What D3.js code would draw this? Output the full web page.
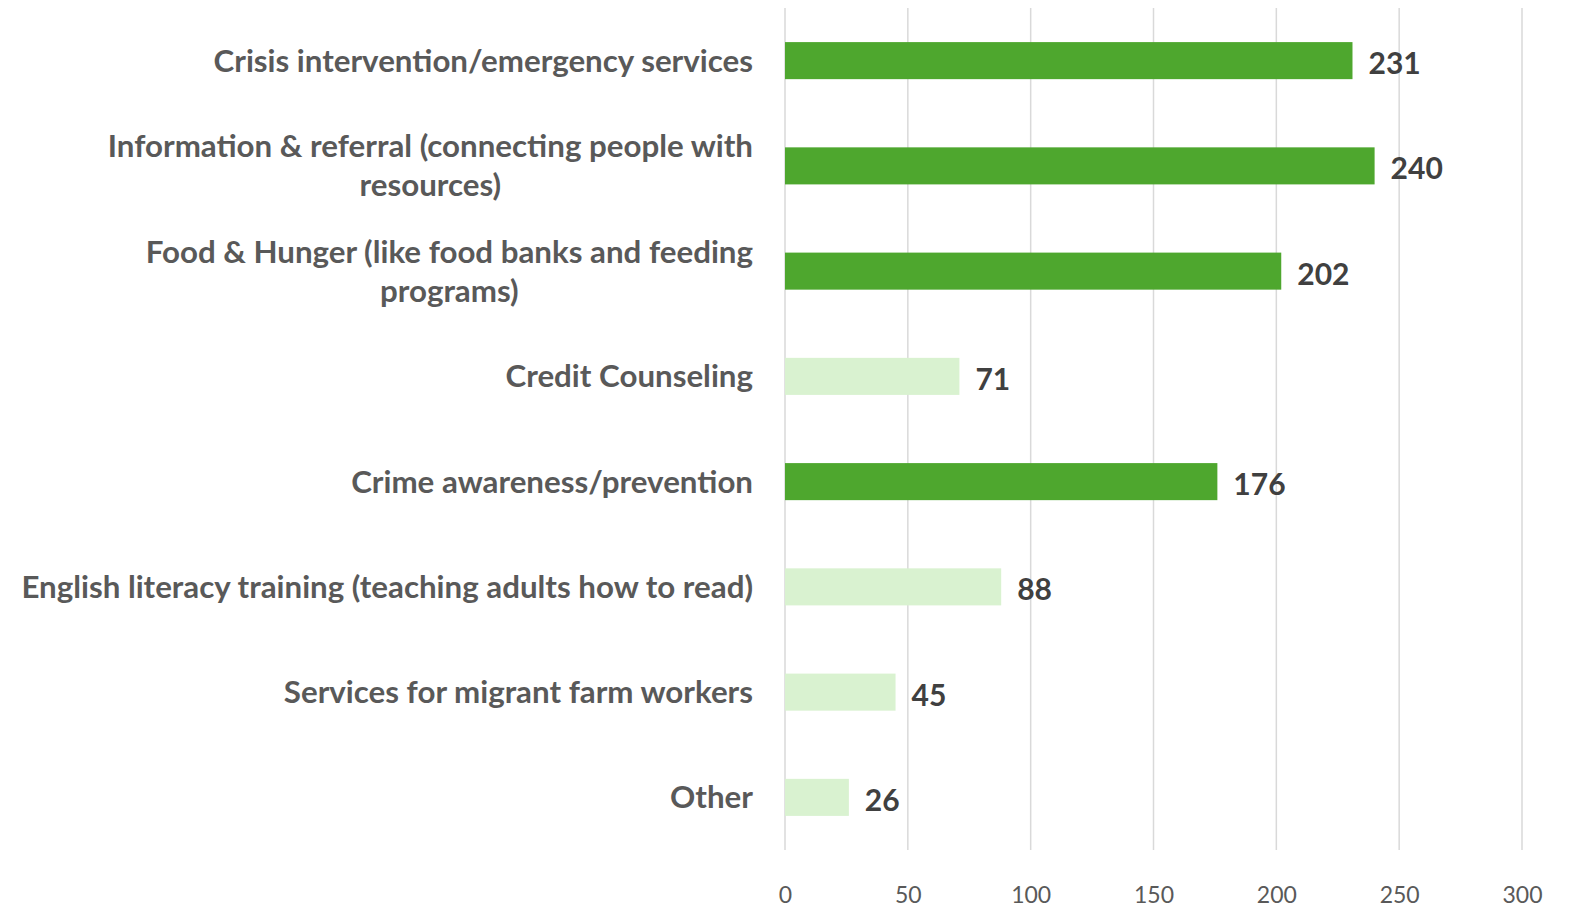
<!DOCTYPE html>
<html>
<head>
<meta charset="utf-8">
<script src="https://cdn.jsdelivr.net/npm/d3@7"></script>
<style>
  html, body { margin: 0; padding: 0; background: #ffffff; }
  svg { display: block; }
</style>
</head>
<body>
<svg id="chart" width="1571" height="911"></svg>
<script>
const categories = [
  "Crisis intervention/emergency services",
  "Information & referral (connecting people with\nresources)",
  "Food & Hunger (like food banks and feeding\nprograms)",
  "Credit Counseling",
  "Crime awareness/prevention",
  "English literacy training (teaching adults how to read)",
  "Services for migrant farm workers",
  "Other"
];
const values = [231, 240, 202, 71, 176, 88, 45, 26];
const highlighted = [true, true, true, false, true, false, false, false];
const xTicks = [0, 50, 100, 150, 200, 250, 300];

const svg = d3.select("#chart");
const font = "Lato, 'Open Sans', sans-serif";

const x = d3.scaleLinear().domain([0, 300]).range([785, 1522]);
const y = d3.scaleBand().domain(categories).range([8, 850]).paddingInner(0.648).paddingOuter(0.324);

// gridlines
svg.append("g")
  .selectAll("line")
  .data(xTicks)
  .join("line")
  .attr("x1", d => x(d)).attr("x2", d => x(d))
  .attr("y1", 8).attr("y2", 850)
  .attr("stroke", "#d9d9d9").attr("stroke-width", 1.5);

// x axis tick labels
const xAxis = d3.axisBottom(x).tickValues(xTicks).tickSize(0).tickPadding(0);
const gx = svg.append("g").attr("transform", "translate(0,887)").call(xAxis);
gx.select(".domain").remove();
gx.selectAll("text")
  .attr("font-family", font)
  .attr("font-size", 23)
  .attr("fill", "#595959")
  .attr("dy", "0.71em");

// bars
svg.append("g")
  .selectAll("rect")
  .data(categories)
  .join("rect")
  .attr("x", x(0))
  .attr("y", d => y(d))
  .attr("width", (d, i) => x(values[i]) - x(0))
  .attr("height", y.bandwidth())
  .attr("fill", (d, i) => highlighted[i] ? "#4ea72e" : "#d9f2d0");

// value labels
svg.append("g")
  .selectAll("text")
  .data(categories)
  .join("text")
  .attr("x", (d, i) => x(values[i]) + 16)
  .attr("y", d => y(d) + y.bandwidth() / 2 + 3)
  .attr("dy", "0.35em")
  .attr("font-family", font)
  .attr("font-weight", "bold")
  .attr("font-size", 30)
  .attr("fill", "#404040")
  .text((d, i) => values[i]);

// category labels
const gy = svg.append("g");
const labels = gy.selectAll("text")
  .data(categories)
  .join("text")
  .attr("font-family", font)
  .attr("font-weight", "bold")
  .attr("font-size", 26)
  .attr("fill", "#595959")
  .attr("text-anchor", "middle");

labels.each(function(d) {
  const lines = d.split("\n");
  const t = d3.select(this);
  const lh = 39;
  const cy = y(d) + y.bandwidth() / 2;
  const y0 = cy - (lines.length - 1) * lh / 2;
  lines.forEach((ln, k) => {
    t.append("tspan").attr("y", y0 + k * lh).attr("dy", "0.35em").text(ln);
  });
});

// scale font so the longest single line matches the reference width (732px)
let maxW = 0;
gy.selectAll("tspan").each(function() { maxW = Math.max(maxW, this.getComputedTextLength()); });
const fs = 26 * 732 / maxW;
labels.attr("font-size", fs);

labels.each(function() {
  const t = d3.select(this);
  let w = 0;
  t.selectAll("tspan").each(function() { w = Math.max(w, this.getComputedTextLength()); });
  const cx = 753 - w / 2;
  t.selectAll("tspan").attr("x", cx);
});
</script>
</body>
</html>
